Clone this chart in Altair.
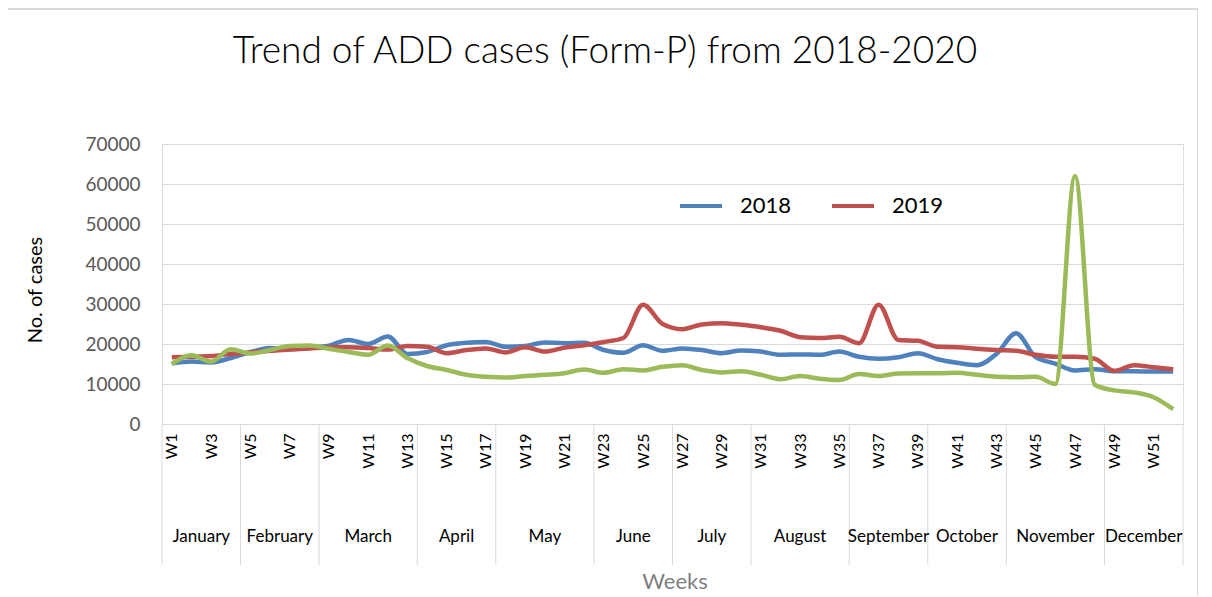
import altair as alt
import pandas as pd

title_text = "Trend of ADD cases (Form-P) from 2018-2020"
years = ["2018", "2019", "2020"]
colors = ["#4F81BD", "#C0504D", "#9BBB59"]
legend_years = ["2018", "2019"]

weeks = list(range(1, 53))

cases_2018 = [15200, 15600, 15400, 16500, 18000, 19000, 18700, 19100, 19600, 21000,
              20000, 21900, 17500, 18000, 19700, 20300, 20500, 19300, 19500, 20400,
              20200, 20300, 18500, 17800, 19700, 18300, 18900, 18500, 17700, 18400,
              18100, 17300, 17400, 17300, 18100, 16800, 16300, 16700, 17700, 16200,
              15300, 14700, 17500, 22700, 16700, 15100, 13400, 13700, 13200, 13200,
              13100, 13100]
cases_2019 = [16700, 16800, 17000, 17500, 17900, 18300, 18600, 18900, 19200, 19200,
              19000, 18600, 19500, 19300, 17700, 18500, 18900, 17900, 19200, 18100,
              19100, 19700, 20500, 21500, 29800, 25000, 23700, 24900, 25200, 24800,
              24200, 23300, 21700, 21500, 21800, 20200, 29800, 21000, 20800, 19300,
              19200, 18800, 18500, 18300, 17300, 16800, 16800, 16300, 13300, 14700,
              14200, 13700]
cases_2020 = [15000, 17200, 15600, 18700, 17600, 18500, 19500, 19600, 18800, 18000,
              17300, 19600, 16500, 14500, 13500, 12300, 11800, 11600, 12000, 12300,
              12700, 13600, 12800, 13700, 13400, 14300, 14700, 13500, 12900, 13200,
              12300, 11200, 12000, 11300, 11000, 12500, 12000, 12600, 12700, 12700,
              12800, 12300, 11800, 11700, 11800, 10000, 62000, 9800, 8400, 7900,
              6700, 3700]

months = ["January", "February", "March", "April", "May", "June", "July",
          "August", "September", "October", "November", "December"]
month_weeks = [4, 4, 5, 4, 5, 4, 4, 5, 4, 4, 5, 4]

y_ticks = [0, 10000, 20000, 30000, 40000, 50000, 60000, 70000]

# ---- tables ----
rows = []
for yr, vals in zip(years, [cases_2018, cases_2019, cases_2020]):
    for w, v in zip(weeks, vals):
        rows.append({"week": w, "pos": w - 0.5, "year": yr, "cases": v})
df = pd.DataFrame(rows)

starts = []
acc = 0
for n in month_weeks:
    starts.append(acc)
    acc += n
df_month = pd.DataFrame({"month": months,
                         "center": [s + n / 2 for s, n in zip(starts, month_weeks)]})
df_bounds = pd.DataFrame({"b": starts + [acc]})

odd_positions = [w - 0.5 for w in weeks if w % 2 == 1]

FONT = "Lato"
W, H = 1021, 280

xscale = alt.Scale(domain=[0, 52], nice=False, zero=False)
yscale = alt.Scale(domain=[0, 70000], nice=False)

lines = alt.Chart(df).mark_line(interpolate="monotone", strokeWidth=4.5).encode(
    x=alt.X("pos:Q", scale=xscale,
            axis=alt.Axis(values=odd_positions,
                          labelExpr="'W' + (datum.value + 0.5)",
                          labelAngle=270, labelOverlap=False, grid=False,
                          ticks=False, domain=True, domainColor="#d9d9d9",
                          labelFontSize=16, labelPadding=9, labelColor="#000000",
                          labelFont=FONT, title=None)),
    y=alt.Y("cases:Q", scale=yscale,
            axis=alt.Axis(values=y_ticks, format="d", grid=True, gridColor="#d9d9d9",
                          ticks=False, domain=False, labelFontSize=19,
                          labelPadding=22, labelColor="#595959",
                          labelFont=FONT, title=None)),
    color=alt.Color("year:N", scale=alt.Scale(domain=years, range=colors),
                    legend=alt.Legend(values=legend_years, orient="none",
                                      legendX=516, legendY=39,
                                      direction="horizontal", title=None,
                                      symbolType="stroke", symbolSize=1764,
                                      symbolStrokeWidth=4, labelFontSize=22,
                                      labelFont=FONT, labelColor="#000000",
                                      labelOffset=16, columnPadding=32)),
    order=alt.Order("week:Q"),
)

seps = alt.Chart(df_bounds).mark_rule(color="#d9d9d9", strokeWidth=1).encode(
    x=alt.X("b:Q", scale=xscale),
    y=alt.value(H),
    y2=alt.value(H + 141),
)

month_text = alt.Chart(df_month).mark_text(fontSize=17, font=FONT, color="#000000",
                                           baseline="middle").encode(
    x=alt.X("center:Q", scale=xscale),
    y=alt.value(393),
    text="month:N",
)

title = alt.Chart(pd.DataFrame({"t": [title_text]})).mark_text(
    fontSize=37, font=FONT, fontWeight=300, color="#000000",
    baseline="middle").encode(
    x=alt.value(443), y=alt.value(-92), text="t:N")

ytitle = alt.Chart(pd.DataFrame({"t": ["No. of cases"]})).mark_text(
    fontSize=20, font=FONT, color="#000000", angle=270, baseline="middle").encode(
    x=alt.value(-126), y=alt.value(146), text="t:N")

xtitle = alt.Chart(pd.DataFrame({"t": ["Weeks"]})).mark_text(
    fontSize=22, font=FONT, color="#7f7f7f", baseline="middle").encode(
    x=alt.value(513), y=alt.value(438), text="t:N")

frame_top = alt.Chart(pd.DataFrame({"t": [0]})).mark_rule(
    color="#d9d9d9", strokeWidth=2).encode(
    x=alt.value(-154), x2=alt.value(1036), y=alt.value(-135))
frame_right = alt.Chart(pd.DataFrame({"t": [0]})).mark_rule(
    color="#d9d9d9", strokeWidth=2).encode(
    x=alt.value(1036), y=alt.value(-135), y2=alt.value(600))

chart = alt.layer(frame_top, frame_right, seps, lines, month_text, title, ytitle,
                  xtitle).properties(
    width=W, height=H,
    autosize=alt.AutoSizeParams(type="none"),
    padding={"left": 154, "top": 136, "right": 15, "bottom": 172},
).configure_view(stroke=None).configure(background="#ffffff")

chart.save("out.html", embed_options={"renderer": "svg", "actions": False})
